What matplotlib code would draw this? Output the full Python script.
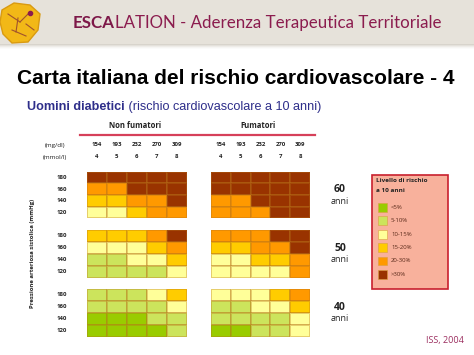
"""Carta italiana del rischio cardiovascolare - uomini diabetici."""

import numpy as np
import matplotlib
matplotlib.use('Agg')
import matplotlib.pyplot as plt
from matplotlib.colors import ListedColormap, BoundaryNorm
from matplotlib.patches import Rectangle, Polygon

W, H = 474, 355

# Risk classes (index into colours) - rows top to bottom = 180, 160, 140, 120
risk_labels = ["<5%", "5-10%", "10-15%", "15-20%", "20-30%", ">30%"]
risk_colors = ["#99cc00", "#cce45c", "#ffff99", "#ffcc00", "#ff9900", "#993300"]

cholesterol_mg = ["154", "193", "232", "270", "309"]
cholesterol_mmol = ["4", "5", "6", "7", "8"]
sbp_labels = ["180", "160", "140", "120"]
ages = ["60", "50", "40"]

non_smokers_60 = [[5, 5, 5, 5, 5],
                  [4, 4, 5, 5, 5],
                  [3, 3, 4, 4, 5],
                  [2, 2, 3, 4, 4]]
smokers_60 = [[5, 5, 5, 5, 5],
              [5, 5, 5, 5, 5],
              [4, 4, 5, 5, 5],
              [4, 4, 4, 5, 5]]
non_smokers_50 = [[3, 3, 3, 4, 5],
                  [2, 2, 2, 3, 4],
                  [1, 1, 2, 2, 3],
                  [1, 1, 1, 1, 2]]
smokers_50 = [[4, 4, 4, 5, 5],
              [3, 3, 4, 4, 5],
              [2, 2, 3, 3, 4],
              [2, 2, 2, 2, 4]]
non_smokers_40 = [[1, 1, 1, 2, 3],
                  [1, 1, 1, 1, 2],
                  [0, 0, 0, 1, 1],
                  [0, 0, 0, 0, 1]]
smokers_40 = [[2, 2, 2, 3, 4],
              [1, 1, 2, 2, 3],
              [1, 1, 1, 1, 2],
              [0, 0, 1, 1, 2]]

cmap = ListedColormap(risk_colors)
norm = BoundaryNorm(np.arange(-0.5, 6.5, 1), cmap.N)

fig = plt.figure(figsize=(W / 100, H / 100), dpi=100)
bg = fig.add_axes([0, 0, 1, 1])
bg.set_xlim(0, W)
bg.set_ylim(H, 0)
bg.axis('off')

# header band with a soft shadow
bg.add_patch(Rectangle((0, 0), W, 44, color="#e6e2da", zorder=0))
for i, c in enumerate(["#d8d4cc", "#e4e1db", "#eeece8", "#f6f5f3", "#fbfbfa"]):
    bg.add_patch(Rectangle((0, 44 + i), W, 1, color=c, lw=0, zorder=0))

# logo (rough yellow blob)
bg.add_patch(Polygon([(2, 10), (14, 3), (30, 5), (40, 14), (38, 30), (28, 42),
                      (12, 43), (3, 34), (0, 22)],
                     closed=True, fc="#f2b817", ec="#d99a10", lw=1, zorder=2))
for (x0, y0, x1, y1) in [(8, 14, 20, 22), (20, 22, 30, 12), (12, 30, 26, 36),
                         (18, 18, 16, 32), (26, 24, 34, 30)]:
    bg.plot([x0, x1], [y0, y1], color="#a0522d", lw=0.8, zorder=3)
bg.plot([30], [13], "o", color="#8b1c4e", ms=3, zorder=4)

t1 = bg.text(73, 23, "ESCA", fontsize=12.2, family="Lato", fontweight="bold",
             color="#7d1848", va="center")
bg.annotate("LATION - Aderenza Terapeutica Territoriale", xy=(1, 0),
            xycoords=t1, va="bottom", fontsize=12.2, family="Lato",
            color="#8b1c4e")

bg.text(17, 78, "Carta italiana del rischio cardiovascolare - 4", fontsize=15,
        family="Liberation Sans", fontweight="bold", color="black", va="center")
t2 = bg.text(27, 107, "Uomini diabetici", fontsize=9.1, family="Liberation Sans",
             fontweight="bold", color="#2e2e8a", va="center")
bg.annotate(" (rischio cardiovascolare a 10 anni)", xy=(1, 0), xycoords=t2,
            va="bottom", fontsize=9.1, family="Liberation Sans", color="#2e2e8a")

small = dict(family="Open Sans", color="#222222", ha="center", va="center")

# group headers
bg.text(135, 126, "Non fumatori", fontsize=5.5, fontweight="bold", **small)
bg.text(258, 126, "Fumatori", fontsize=5.5, fontweight="bold", **small)
bg.plot([80, 315], [135, 135], color="#d6405a", lw=1.6)

bg.text(55, 145, "(mg/dl)", fontsize=4.5, **small)
bg.text(55, 157, "(mmol/l)", fontsize=4.5, **small)

col_x = {"nf": (86.7, 186.7), "f": (210.7, 310.3)}
row_y = [(171.5, 218.5), (230.0, 277.7), (289.0, 336.7)]

for key, (x0, x1) in col_x.items():
    step = (x1 - x0) / len(cholesterol_mg)
    for j, (mg, mm) in enumerate(zip(cholesterol_mg, cholesterol_mmol)):
        cx = x0 + step * (j + 0.5)
        bg.text(cx, 145, mg, fontsize=4.3, fontweight="bold", **small)
        bg.text(cx, 157, mm, fontsize=4.3, fontweight="bold", **small)

panels = [(non_smokers_60, smokers_60), (non_smokers_50, smokers_50),
          (non_smokers_40, smokers_40)]

for (y0, y1), age, (nf, f) in zip(row_y, ages, panels):
    for key, grid in (("nf", nf), ("f", f)):
        x0, x1 = col_x[key]
        ax = fig.add_axes([x0 / W, 1 - y1 / H, (x1 - x0) / W, (y1 - y0) / H])
        ax.pcolormesh(np.array(grid), cmap=cmap, norm=norm,
                      edgecolors=(0.72, 0.45, 0.1, 0.35), linewidth=0.3)
        ax.set_ylim(len(grid), 0)
        ax.axis('off')
    step = (y1 - y0) / len(sbp_labels)
    for i, lab in enumerate(sbp_labels):
        bg.text(62, y0 + step * (i + 0.5), lab, fontsize=4.3, fontweight="bold", **small)
    cy = (y0 + y1) / 2
    bg.text(340, cy - 5, age, fontsize=7.5, fontweight="bold", **small)
    bg.text(340, cy + 6, "anni", fontsize=6.5, **small)

bg.text(33, 253, "Pressione arteriosa sistolica (mmHg)", fontsize=4.3,
        fontweight="bold", rotation=90, **small)

# legend box
bg.add_patch(Rectangle((371.7, 175), 76.6, 114, fc="#f8b19c", ec="#c8202e", lw=1.2))
bg.text(376, 181, "Livello di rischio", fontsize=4.6, fontweight="bold",
        family="Open Sans", color="#222222", va="center")
bg.text(376, 190, "a 10 anni", fontsize=4.6, fontweight="bold",
        family="Open Sans", color="#222222", va="center")
for i, (lab, col) in enumerate(zip(risk_labels, risk_colors)):
    yc = 207.3 + i * 13.4
    bg.add_patch(Rectangle((378, yc - 4.3), 8.7, 8.7, fc=col, ec="#d9a040", lw=0.4))
    bg.text(391, yc, lab, fontsize=4.3, family="Open Sans", color="#5a2a1a", va="center")

bg.text(445, 341, "ISS, 2004", fontsize=6.5, family="Open Sans", color="#9b2d5e",
        ha="center", va="center")

fig.savefig("out.png", dpi=100)
